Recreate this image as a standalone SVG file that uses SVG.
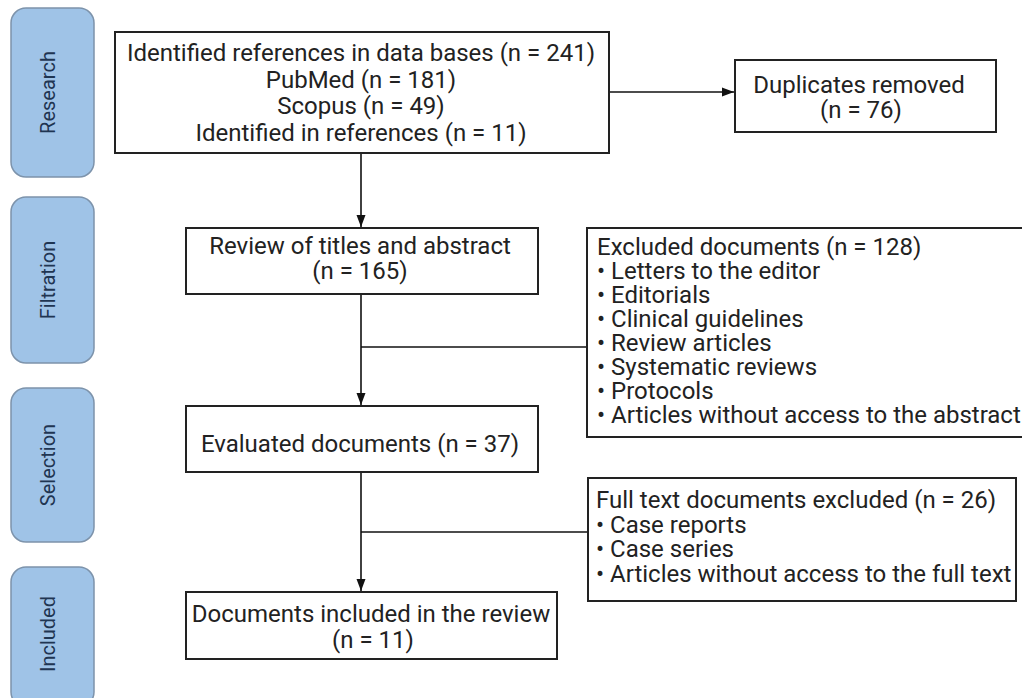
<svg xmlns="http://www.w3.org/2000/svg" width="1022" height="698" viewBox="0 0 1022 698">
<defs>
<style>
.tab{fill:#9fc3e7;stroke:#7d93ab;stroke-width:1.5}
.tabt{font-family:Roboto,"Liberation Sans",sans-serif;font-size:20px;fill:#1f3552;text-anchor:middle}
.box{fill:#ffffff;stroke:#222222;stroke-width:2}
.t{font-family:Roboto,"Liberation Sans",sans-serif;font-size:24px;fill:#222222}
.c{text-anchor:middle}
.ln{fill:none;stroke:#111111;stroke-width:1.6}
</style>
<marker id="ah" viewBox="0 0 12 10" refX="12" refY="5" markerWidth="12" markerHeight="10" markerUnits="userSpaceOnUse" orient="auto">
<path d="M0,0.5 L12,5 L0,9.5 z" fill="#111111"/>
</marker>
</defs>
<rect width="1022" height="698" fill="#ffffff"/>

<g id="tab-research"><rect class="tab" x="11" y="8" width="83" height="169" rx="15"/><text class="tabt" transform="translate(55,92.5) rotate(-90)">Research</text></g>
<g id="tab-filtration"><rect class="tab" x="11" y="197" width="83" height="166" rx="15"/><text class="tabt" transform="translate(55,280) rotate(-90)">Filtration</text></g>
<g id="tab-selection"><rect class="tab" x="11" y="388" width="83" height="154" rx="15"/><text class="tabt" transform="translate(55,465) rotate(-90)">Selection</text></g>
<g id="tab-included"><rect class="tab" x="11" y="567" width="83" height="140" rx="15"/><text class="tabt" transform="translate(55,634) rotate(-90)">Included</text></g>

<g id="connectors">
<line class="ln" x1="609" y1="92" x2="734" y2="92" marker-end="url(#ah)"/>
<line class="ln" x1="361" y1="153" x2="361" y2="227" marker-end="url(#ah)"/>
<line class="ln" x1="361" y1="294" x2="361" y2="405" marker-end="url(#ah)"/>
<line class="ln" x1="361" y1="347" x2="587" y2="347"/>
<line class="ln" x1="361" y1="472" x2="361" y2="591" marker-end="url(#ah)"/>
<line class="ln" x1="361" y1="532" x2="588" y2="532"/>
</g>

<g id="identified">
<rect class="box" x="115" y="32" width="494" height="121"/>
<text class="t c" x="361" y="61">Identified references in data bases (n = 241)</text>
<text class="t c" x="361" y="88">PubMed (n = 181)</text>
<text class="t c" x="361" y="114">Scopus (n = 49)</text>
<text class="t c" x="361" y="141">Identified in references (n = 11)</text>
</g>

<g id="duplicates">
<rect class="box" x="735" y="60" width="261" height="72"/>
<text class="t c" x="859" y="93">Duplicates removed</text>
<text class="t c" x="861" y="118">(n = 76)</text>
</g>

<g id="review">
<rect class="box" x="186" y="228" width="352" height="66"/>
<text class="t c" x="360" y="254">Review of titles and abstract</text>
<text class="t c" x="360" y="279">(n = 165)</text>
</g>

<g id="excluded">
<rect class="box" x="587" y="228" width="440" height="209"/>
<text class="t" x="597" y="255">Excluded documents (n = 128)</text>
<text class="t" x="597" y="279">• Letters to the editor</text>
<text class="t" x="597" y="303">• Editorials</text>
<text class="t" x="597" y="327">• Clinical guidelines</text>
<text class="t" x="597" y="351">• Review articles</text>
<text class="t" x="597" y="375">• Systematic reviews</text>
<text class="t" x="597" y="399">• Protocols</text>
<text class="t" x="597" y="423">• Articles without access to the abstract</text>
</g>

<g id="evaluated">
<rect class="box" x="186" y="406" width="352" height="66"/>
<text class="t c" x="360" y="452">Evaluated documents (n = 37)</text>
</g>

<g id="fulltext">
<rect class="box" x="588" y="478" width="428" height="123"/>
<text class="t" x="596" y="508">Full text documents excluded (n = 26)</text>
<text class="t" x="596" y="533">• Case reports</text>
<text class="t" x="596" y="557">• Case series</text>
<text class="t" x="596" y="582">• Articles without access to the full text</text>
</g>

<g id="included">
<rect class="box" x="186" y="592" width="371" height="67"/>
<text class="t c" x="371" y="622">Documents included in the review</text>
<text class="t c" x="373" y="648">(n = 11)</text>
</g>
</svg>
